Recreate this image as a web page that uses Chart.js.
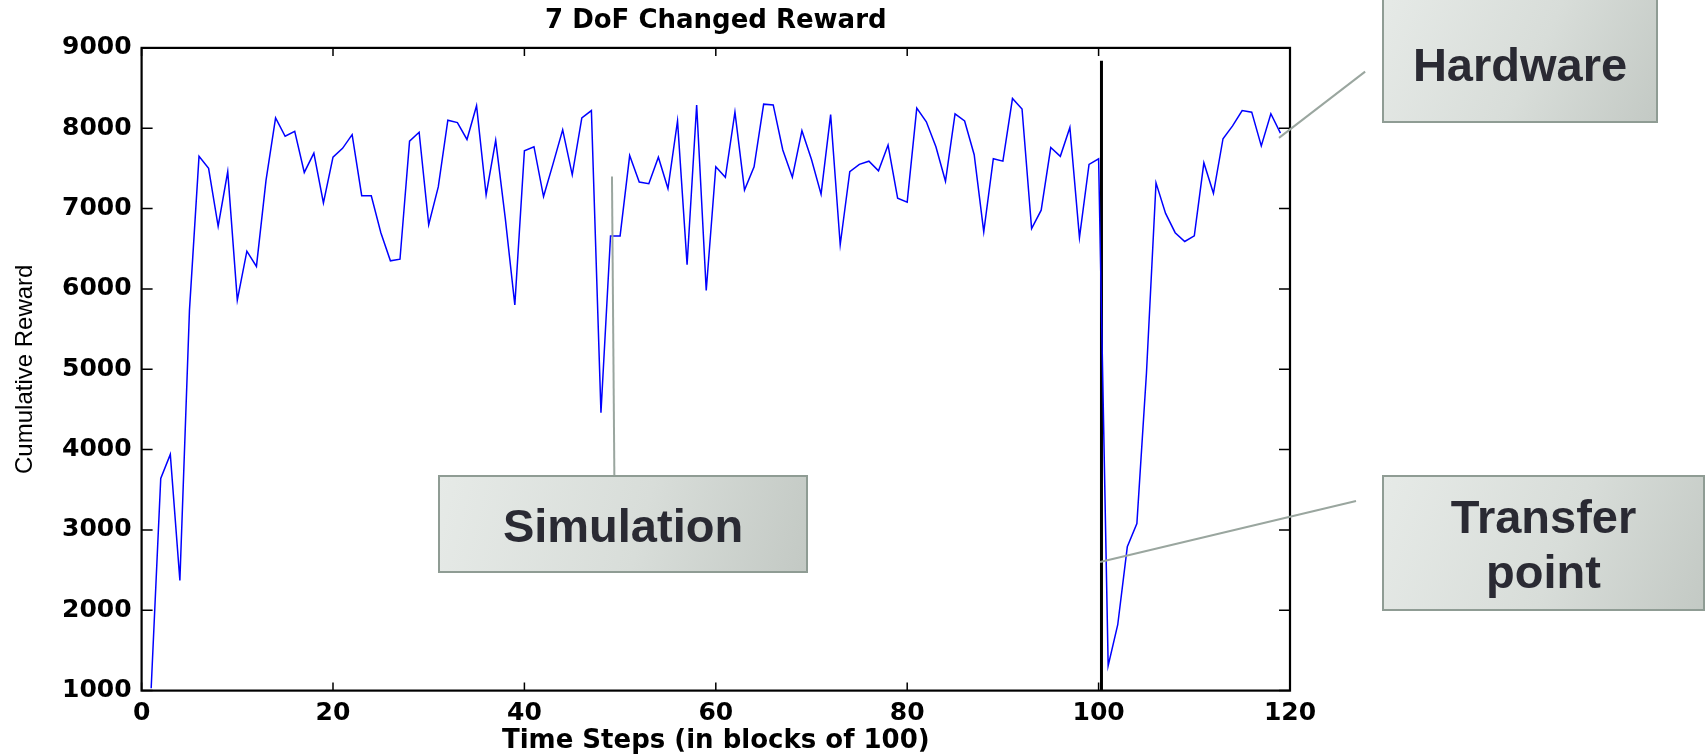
<!DOCTYPE html>
<html>
<head>
<meta charset="utf-8">
<script src="https://cdn.jsdelivr.net/npm/chart.js@4.4.1/dist/chart.umd.min.js"></script>
<style>
    html, body { margin: 0; padding: 0; background: #ffffff; }
</style>
</head>
<body>
<canvas id="graficoRecompensa" width="1708" height="754"></canvas>
<script>
// dados
const passos = [
    1, 2, 3, 4, 5, 6, 7, 8, 9, 10, 11, 12, 13, 14, 15, 16, 17, 18, 19, 20,
    21, 22, 23, 24, 25, 26, 27, 28, 29, 30, 31, 32, 33, 34, 35, 36, 37, 38, 39, 40,
    41, 42, 43, 44, 45, 46, 47, 48, 49, 50, 51, 52, 53, 54, 55, 56, 57, 58, 59, 60,
    61, 62, 63, 64, 65, 66, 67, 68, 69, 70, 71, 72, 73, 74, 75, 76, 77, 78, 79, 80,
    81, 82, 83, 84, 85, 86, 87, 88, 89, 90, 91, 92, 93, 94, 95, 96, 97, 98, 99, 100,
    101, 102, 103, 104, 105, 106, 107, 108, 109, 110, 111, 112, 113, 114, 115, 116, 117, 118, 119
]
const recompensa = [
    1030, 3640, 3940, 2370, 5730, 7650, 7500, 6780, 7460, 5860,
    6470, 6280, 7350, 8130, 7900, 7960, 7450, 7690, 7070, 7640,
    7750, 7920, 7160, 7160, 6700, 6350, 6370, 7840, 7950, 6800,
    7270, 8100, 8070, 7860, 8280, 7170, 7850, 6880, 5800, 7720,
    7770, 7150, 7560, 7980, 7420, 8130, 8220, 4460, 6660, 6660,
    7660, 7330, 7310, 7640, 7250, 8090, 6300, 8290, 5980, 7520,
    7390, 8200, 7230, 7520, 8300, 8290, 7730, 7390, 7970, 7610,
    7180, 8170, 6550, 7460, 7550, 7590, 7470, 7790, 7130, 7080,
    8250, 8080, 7770, 7340, 8180, 8090, 7670, 6710, 7620, 7590,
    8370, 8240, 6750, 6980, 7760, 7650, 8010, 6640, 7550, 7620,
    1310, 1820, 2790, 3080, 4950, 7320, 6940, 6700, 6590, 6660,
    7570, 7190, 7870, 8030, 8220, 8200, 7780, 8180, 7940
]
const transferenciaX = 100.3
const transferenciaY = [1000, 8840]
const limitesX = [0, 120]
const limitesY = [1000, 9000]
const passoTickX = 20
const passoTickY = 1000

// caixas de texto (ponta da linha em valores do grafico)
const anotacoes = [
    { texto: ['Simulation'], caixa: [439, 476, 368, 96], base: [542],
      linha: [[49.15, 7400], [49.4, 3680]] },
    { texto: ['Hardware'], caixa: [1383, -10, 274, 132], base: [81],
      linha: [[118.85, 7880], [127.85, 8705]] },
    { texto: ['Transfer', 'point'], caixa: [1383, 476, 321, 134], base: [533, 588],
      linha: [[100.15, 2600], [126.9, 3360]] }
]

const pluginMoldura = {
    id: 'moldura',
    afterDatasetsDraw(chart) {
        const ctx = chart.ctx
        const a = chart.chartArea
        const x = chart.scales.x
        const y = chart.scales.y
        ctx.save()
        ctx.strokeStyle = '#000000'
        ctx.lineWidth = 1.5
        ctx.beginPath()
        x.ticks.forEach(t => {
            const px = x.getPixelForValue(t.value)
            ctx.moveTo(px, a.bottom); ctx.lineTo(px, a.bottom - 8)
            ctx.moveTo(px, a.top); ctx.lineTo(px, a.top + 8)
        })
        y.ticks.forEach(t => {
            const py = y.getPixelForValue(t.value)
            ctx.moveTo(a.left, py); ctx.lineTo(a.left + 11, py)
            ctx.moveTo(a.right, py); ctx.lineTo(a.right - 11, py)
        })
        ctx.stroke()
        ctx.lineWidth = 2.2
        ctx.strokeRect(a.left, a.top, a.right - a.left, a.bottom - a.top)
        ctx.restore()
    }
}

const pluginAnotacoes = {
    id: 'anotacoes',
    afterDraw(chart) {
        const ctx = chart.ctx
        const x = chart.scales.x
        const y = chart.scales.y
        ctx.save()
        anotacoes.forEach(an => {
            const p1 = an.linha[0], p2 = an.linha[1]
            ctx.strokeStyle = '#9aa69f'
            ctx.lineWidth = 2
            ctx.beginPath()
            ctx.moveTo(x.getPixelForValue(p1[0]), y.getPixelForValue(p1[1]))
            ctx.lineTo(x.getPixelForValue(p2[0]), y.getPixelForValue(p2[1]))
            ctx.stroke()

            const [bx, by, bw, bh] = an.caixa
            const grad = ctx.createLinearGradient(bx, by, bx + bw, by + bh)
            grad.addColorStop(0, '#e6eae7')
            grad.addColorStop(0.55, '#d8ddd9')
            grad.addColorStop(1, '#c3c9c4')
            ctx.fillStyle = grad
            ctx.fillRect(bx, by, bw, bh)
            ctx.strokeStyle = '#8f9c94'
            ctx.lineWidth = 2
            ctx.strokeRect(bx, by, bw, bh)

            ctx.fillStyle = '#2a2a33'
            ctx.font = 'bold 47px "Liberation Sans", Arial, sans-serif'
            ctx.textAlign = 'center'
            ctx.textBaseline = 'alphabetic'
            an.texto.forEach((t, i) => {
                ctx.fillText(t, bx + bw / 2, an.base[i])
            })
        })
        ctx.restore()
    }
}

function plotarGraficoRecompensa() {
    let graficoRecompensa = new Chart(
        document.getElementById('graficoRecompensa'), {
        type: 'line',
        data: {
            datasets: [{
                label: 'Recompensa',
                data: passos.map((p, i) => ({ x: p, y: recompensa[i] })),
                borderColor: 'rgb(0, 0, 255)',
                borderWidth: 1.5,
                pointRadius: 0,
                tension: 0
            }, {
                label: 'Transferencia',
                data: transferenciaY.map(v => ({ x: transferenciaX, y: v })),
                borderColor: 'rgb(0, 0, 0)',
                borderWidth: 3,
                pointRadius: 0
            }]
        },
        options: {
            responsive: false,
            animation: false,
            layout: { padding: { left: 0, right: 418, top: 0, bottom: 0 } },
            plugins: {
                legend: { display: false },
                tooltip: { enabled: false },
                title: {
                    display: true,
                    fullSize: false,
                    text: '7 DoF Changed Reward',
                    color: '#000000',
                    font: { family: '"DejaVu Sans"', size: 26, weight: 'bold', lineHeight: 1.2 },
                    padding: { top: 6, bottom: 10.7 }
                }
            },
            scales: {
                x: {
                    type: 'linear',
                    min: limitesX[0],
                    max: limitesX[1],
                    grid: { display: false, drawTicks: false },
                    border: { display: false },
                    ticks: {
                        stepSize: passoTickX,
                        padding: 8,
                        color: '#000000',
                        maxRotation: 0,
                        callback: v => String(v),
                        font: { family: '"DejaVu Sans"', size: 25, weight: 'bold' }
                    },
                    title: {
                        display: true,
                        text: 'Time Steps (in blocks of 100)',
                        color: '#000000',
                        font: { family: '"DejaVu Sans"', size: 26, weight: 'bold', lineHeight: 1 },
                        padding: { top: 0, bottom: 0 }
                    },
                    afterFit: s => { s.height = 63.4 }
                },
                y: {
                    min: limitesY[0],
                    max: limitesY[1],
                    grid: { display: false, drawTicks: false },
                    border: { display: false },
                    ticks: {
                        stepSize: passoTickY,
                        padding: 10,
                        color: '#000000',
                        callback: v => String(v),
                        font: { family: '"DejaVu Sans"', size: 25, weight: 'bold' }
                    },
                    title: {
                        display: true,
                        text: 'Cumulative Reward',
                        color: '#000000',
                        font: { family: '"Liberation Sans"', size: 24, lineHeight: 1.2 },
                        padding: { top: 10.6, bottom: 0 }
                    },
                    afterFit: s => { s.width = 141.6 }
                }
            }
        },
        plugins: [pluginMoldura, pluginAnotacoes]
    }
    )
}

plotarGraficoRecompensa()
</script>
</body>
</html>
